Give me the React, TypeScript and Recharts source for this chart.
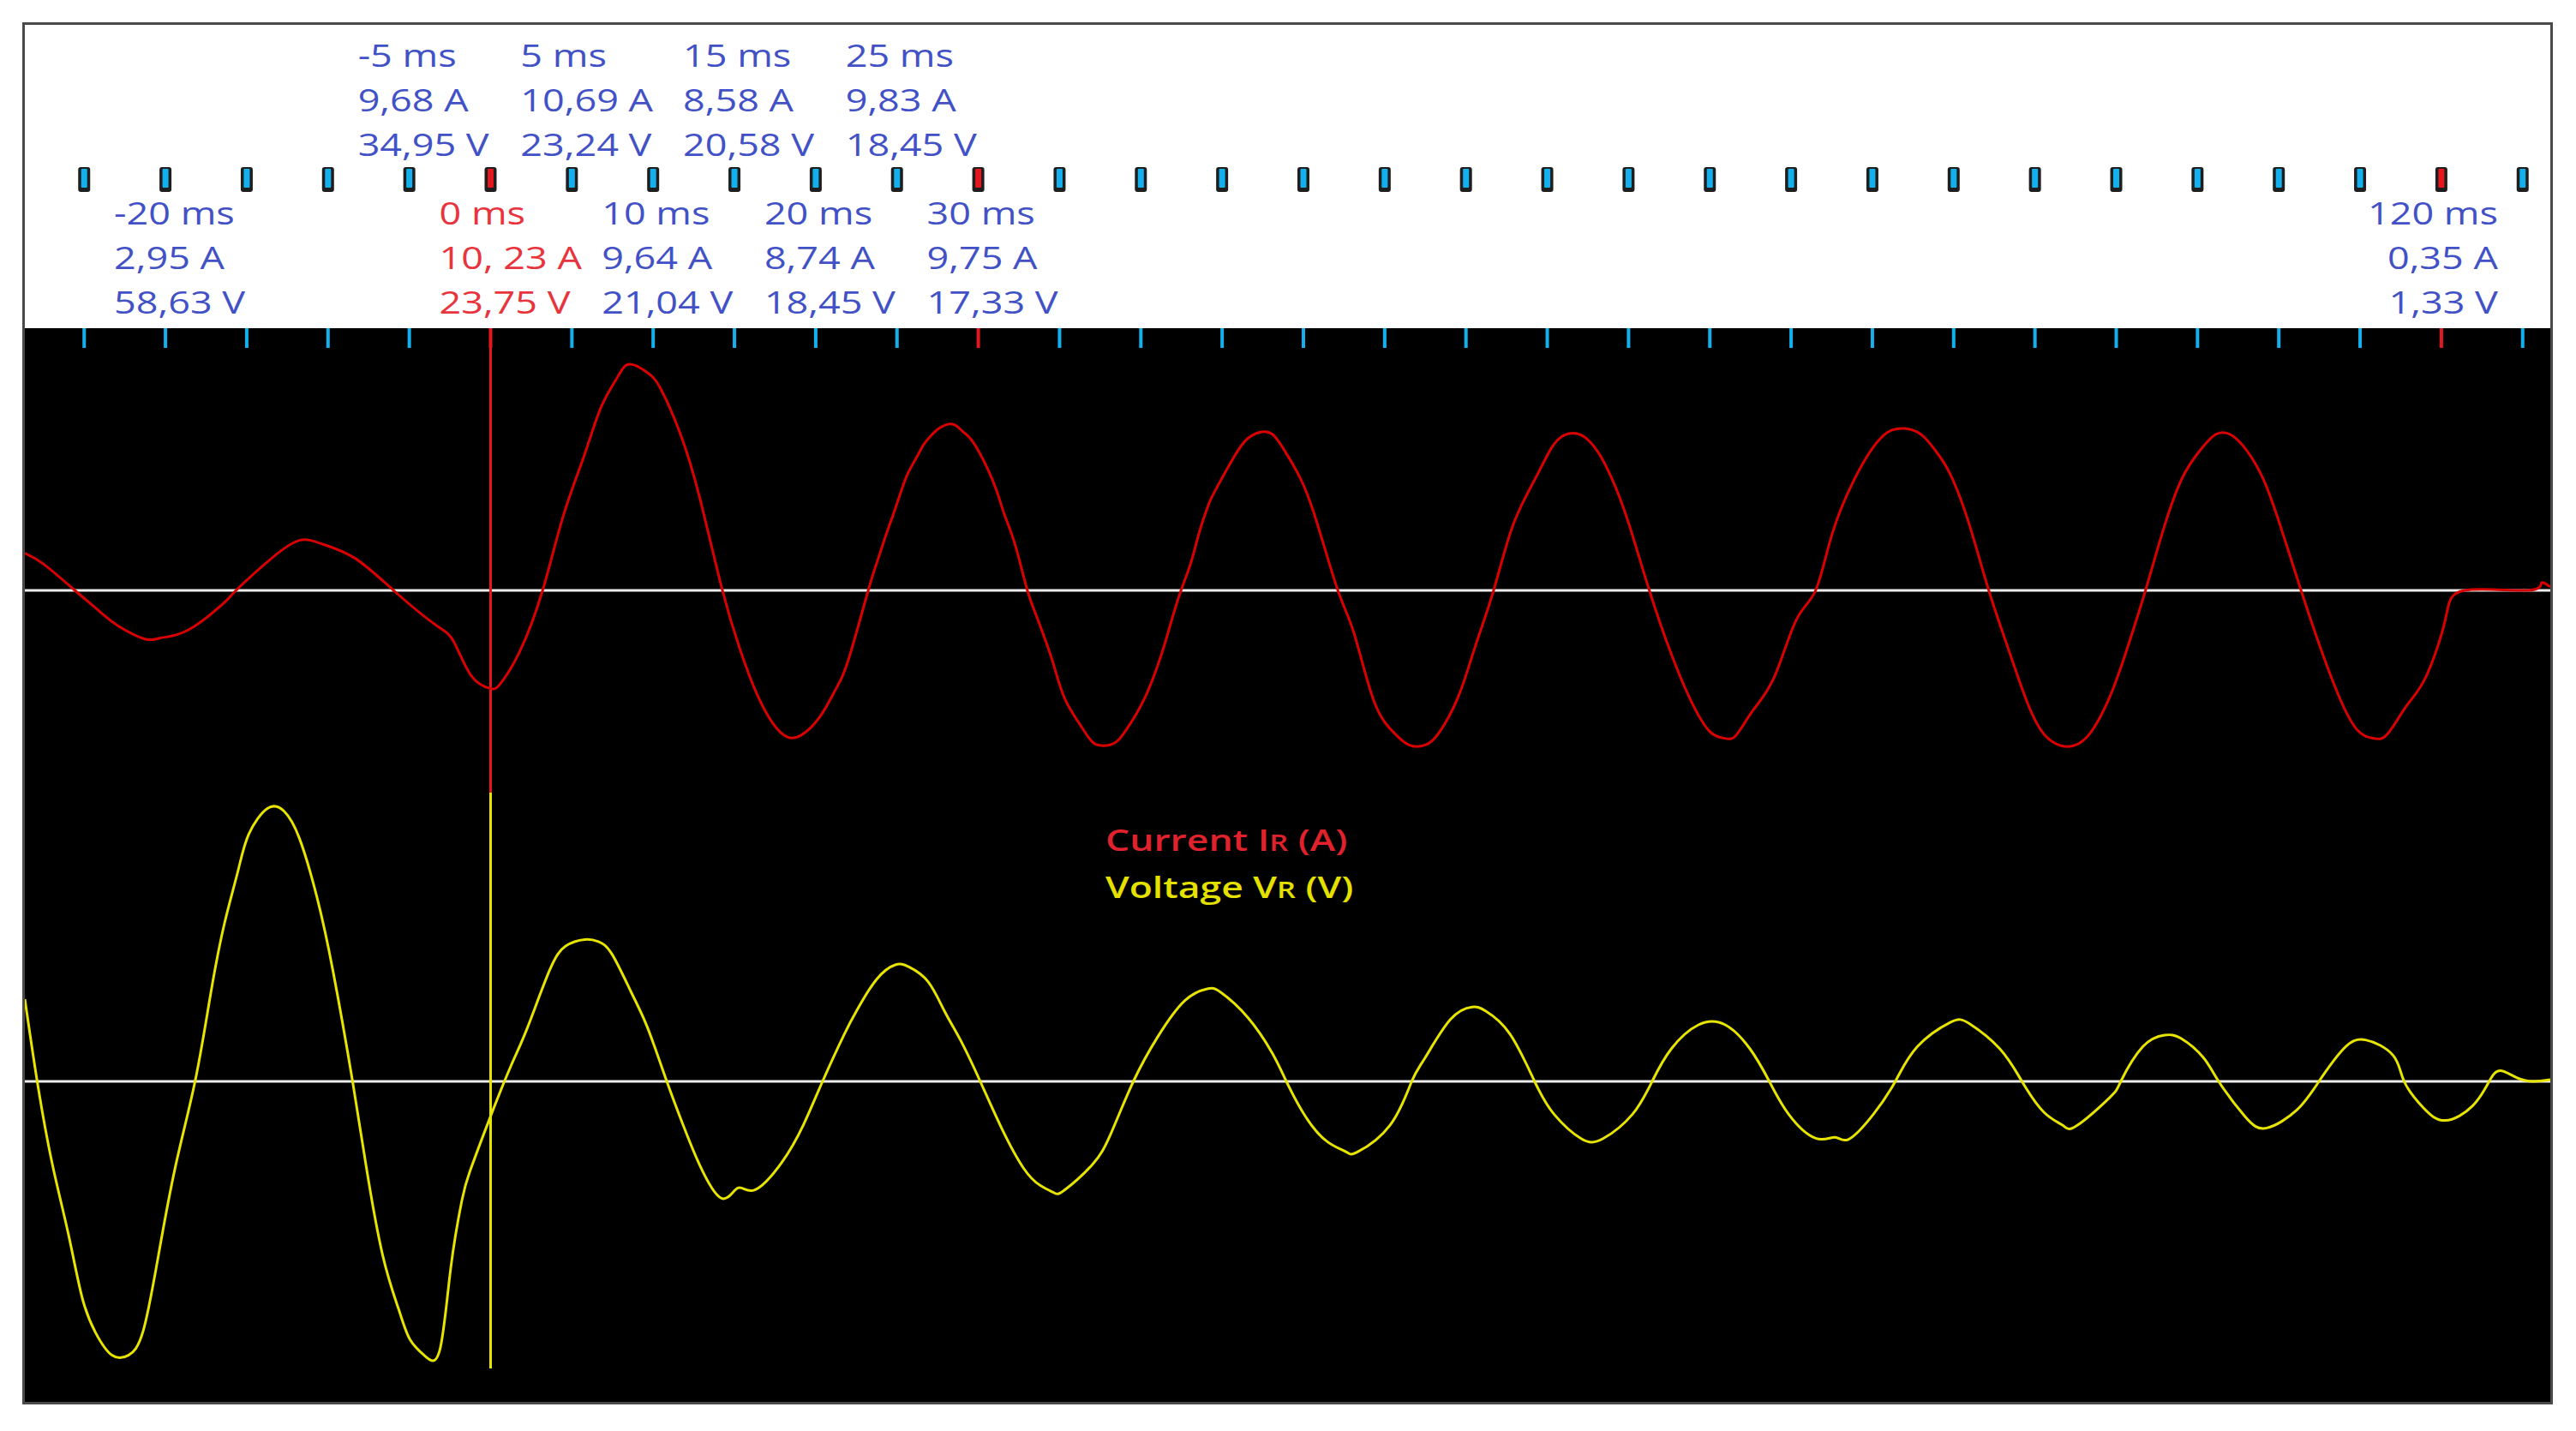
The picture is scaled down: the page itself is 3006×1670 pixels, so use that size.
import { LineChart, Line, XAxis, YAxis, CartesianGrid, ReferenceLine } from "recharts";

// time axis (ms)
const tickTimes = [
  -25, -20, -15, -10, -5, 0, 5, 10, 15, 20, 25, 30, 35, 40, 45, 50,
  55, 60, 65, 70, 75, 80, 85, 90, 95, 100, 105, 110, 115, 120, 125,
];
const markedTimes = [0, 30, 120];
const cursorTime = 0;

// readouts shown above the trace
const labelTimes = [-20, -5, 0, 5, 10, 15, 20, 25, 30, 120];
const labelCurrent = ["2,95 A", "9,68 A", "10, 23 A", "10,69 A", "9,64 A", "8,58 A", "8,74 A", "9,83 A", "9,75 A", "0,35 A"];
const labelVoltage = ["58,63 V", "34,95 V", "23,75 V", "23,24 V", "21,04 V", "20,58 V", "18,45 V", "18,45 V", "17,33 V", "1,33 V"];

// current IR
const currentTimes = [
  -28.65, -27.49, -25.57, -23.96, -22.95, -21.27, -20.26, -18.58, -16.39, -15.66,
  -13.54, -11.76, -10.34, -8.33, -5.97, -3.45, -2.28, -1.2, -0.03, 0.58,
  1.76, 3.2, 4.45, 5.79, 6.8, 7.81, 8.55, 9.66, 10.5, 11.68,
  12.85, 14.26, 15.38, 16.38, 17.39, 18.23, 19.07, 20.25, 21.26, 22.01,
  23.23, 23.76, 24.28, 24.81, 25.25, 25.69, 26.22, 26.66, 27.18, 27.63,
  28.42, 29.03, 29.64, 30.52, 31.14, 31.66, 32.28, 33.02, 33.6, 34.12,
  34.65, 35.35, 36.41, 37.2, 38.25, 39.04, 40.27, 41.33, 41.85, 42.47,
  43.08, 43.61, 44.14, 44.55, 45.73, 46.57, 47.41, 48.09, 48.76, 49.77,
  50.78, 52.12, 53.13, 54.31, 55.48, 56.49, 57.5, 58.34, 59.52, 60.53,
  61.7, 62.88, 64.22, 65.24, 66.07, 67.08, 68.09, 68.93, 69.94, 71.28,
  72.63, 73.81, 74.98, 75.92, 76.6, 77.62, 78.97, 80.32, 81.51, 82.52,
  83.87, 85.06, 86.24, 87.76, 88.78, 89.79, 90.98, 92.16, 93.35, 94.53,
  95.55, 96.56, 97.41, 98.42, 99.6, 100.62, 101.8, 102.81, 104.0, 105.18,
  106.09, 107.04, 108.06, 109.07, 110.09, 111.37, 112.45, 113.64, 114.82, 115.84,
  116.68, 117.87, 119.05, 120.24, 121.42, 125.31, 126.16, 126.7,
];
const currentAmps = [
  3.1, 2.19, 0, -1.86, -2.93, -4.05, -3.95, -3.29, -1.02, 0,
  2.6, 4.17, 3.86, 2.67, 0, -2.81, -4.24, -7.1, -8.17, -7.81,
  -5.19, 0, 6.12, 11.36, 15.29, 17.79, 18.86, 18.14, 16.71, 13.02,
  7.79, 0, -5.07, -8.64, -11.14, -12.21, -12.1, -10.55, -8.17, -5.79,
  0, 2.31, 4.45, 6.48, 8.26, 9.81, 11.12, 12.19, 13.02, 13.55,
  13.86, 13.26, 12.43, 10.29, 8.26, 6.12, 3.74, 0, -2.21, -4.12,
  -6.26, -9.12, -11.5, -12.81, -12.81, -11.74, -8.88, -5.07, -2.69, 0,
  2.31, 4.93, 7.07, 8.26, 11.12, 12.66, 13.21, 13.02, 11.83, 9.45,
  5.88, 0, -3.64, -9.12, -11.74, -12.88, -12.88, -11.86, -8.88, -4.83,
  0, 5.4, 9.21, 11.83, 12.95, 12.95, 11.6, 9.45, 5.88, 0,
  -5.31, -9.12, -11.74, -12.33, -12.1, -10.07, -7.21, -2.45, 0, 4.69,
  9.21, 11.95, 13.38, 13.21, 11.83, 9.69, 5.4, 0, -4.83, -9.36,
  -11.98, -12.93, -12.93, -11.86, -8.88, -5.07, 0, 4.69, 9.21, 11.71,
  12.98, 12.98, 11.6, 9.21, 5.4, 0, -4.36, -8.64, -11.62, -12.33,
  -11.98, -9.6, -7.21, -2.45, 0, 0, 0.64, 0.29,
];

// voltage VR
const voltageTimes = [
  -28.65, -27.89, -26.98, -25.97, -25.13, -24.29, -23.29, -22.28, -21.37, -20.43,
  -19.39, -18.18, -17.24, -16.4, -15.56, -14.88, -13.71, -12.7, -11.76, -10.68,
  -9.67, -8.49, -7.65, -6.64, -5.64, -4.96, -4.02, -3.12, -2.45, -1.77,
  -1.27, -0.02, 1.25, 2.26, 3.61, 4.62, 5.79, 6.63, 7.47, 8.65,
  9.66, 10.84, 11.84, 12.85, 14.2, 15.21, 16.22, 17.9, 19.24, 20.42,
  21.76, 22.54, 23.73, 24.89, 25.73, 26.91, 27.92, 28.92, 30.12, 31.46,
  32.81, 33.82, 34.66, 35.31, 37.01, 38.17, 39.54, 41.05, 42.71, 44.08,
  44.91, 46.57, 48.09, 48.95, 50.12, 51.47, 52.64, 53.32, 55.34, 56.66,
  57.5, 59.05, 60.38, 61.22, 62.71, 64.22, 65.42, 67.08, 68.43, 70.24,
  71.45, 72.63, 74.3, 75.95, 77.47, 78.66, 79.85, 81.51, 82.7, 83.54,
  85.06, 86.41, 87.76, 89.79, 90.98, 92.84, 94.2, 95.55, 96.73, 97.58,
  99.6, 100.28, 101.63, 102.98, 104.0, 105.35, 106.3, 107.91, 109.26, 111.12,
  112.47, 113.98, 115.34, 117.03, 117.71, 118.89, 120.24, 121.93, 122.94, 123.62,
  124.63, 125.65, 126.7,
];
const voltageVolts = [
  24.0, 0, -23.7, -44.6, -63.0, -73.4, -79.9, -79.9, -72.8, -50.7,
  -24.9, 0, 25.0, 45.5, 61.0, 72.1, 79.7, 78.8, 70.9, 53.7,
  31.6, 0, -24.9, -50.7, -66.7, -75.3, -80.2, -78.3, -54.4, -34.8,
  -26.2, -10.4, 4.5, 15.6, 32.2, 39.5, 41.4, 40.8, 37.1, 26.0,
  15.6, 0, -12.7, -24.3, -34.1, -31.1, -31.7, -23.7, -12.7, 0,
  13.8, 20.8, 29.7, 34.0, 33.4, 29.1, 20.5, 11.9, 0, -13.9,
  -25.5, -30.4, -32.5, -31.7, -24.3, -15.1, 0, 13.1, 23.6, 27.0,
  26.0, 18.7, 8.2, 0, -10.2, -17.6, -20.6, -20.6, -12.7, 0,
  7.0, 18.1, 21.7, 20.5, 13.8, 0, -9.6, -16.7, -16.7, -9.6,
  0, 9.5, 16.5, 16.5, 9.5, 0, -9.6, -16.6, -16.3, -16.9,
  -9.6, 0, 10.1, 17.2, 16.8, 9.5, 0, -9.0, -12.9, -12.9,
  -4.7, 0, 10.1, 13.5, 12.5, 7.0, 0, -10.2, -13.6, -8.3,
  0, 9.5, 12.1, 7.6, 0, -7.7, -11.4, -7.1, 0, 3.1,
  1.1, 0, 0.5,
];

const currentData = currentTimes.map((t, i) => ({ t, amps: currentAmps[i] }));
const voltageData = voltageTimes.map((t, i) => ({ t, volts: voltageVolts[i] }));

const W = 3006;
const H = 1670;
const PLOT_TOP = 383;
const FONT = "'Open Sans', 'Noto Sans', sans-serif";
const BLUE_TEXT = "#4252c6";
const RED_TEXT = "#e8343c";
const TICK_BLUE = "#14b0ee";
const TICK_RED = "#e4161e";
const TRACE_RED = "#d80000";
const TRACE_YELLOW = "#e6e400";

function TimeTick(props: any) {
  const { x, payload } = props;
  const t = payload.value as number;
  const marked = markedTimes.includes(t);
  const idx = labelTimes.indexOf(t);
  const upper = Math.abs(t % 10) === 5;
  const atEnd = t >= 100; // last readout sits against the frame, right aligned
  const anchorX = atEnd ? x + 66 : x - 60;
  const color = t === cursorTime ? RED_TEXT : BLUE_TEXT;
  return (
    <g>
      <rect x={x - 2} y={PLOT_TOP} width={4} height={23} fill={marked ? TICK_RED : TICK_BLUE} />
      <rect x={x - 7} y={195} width={14} height={29} rx={3} fill="#1e1e1e" />
      <rect x={x - 3.5} y={197} width={7} height={22} rx={1} fill={marked ? TICK_RED : TICK_BLUE} />
      {idx >= 0 && (
        <g
          transform={`translate(${anchorX} ${upper ? 78 : 262}) scale(1.25 1)`}
          fill={color}
          fontFamily={FONT}
          fontSize={36}
          textAnchor={atEnd ? "end" : "start"}
        >
          <text x={0} y={0}>{`${t} ms`}</text>
          <text x={0} y={52}>{labelCurrent[idx]}</text>
          <text x={0} y={104}>{labelVoltage[idx]}</text>
        </g>
      )}
    </g>
  );
}

export default function App() {
  return (
    <div style={{ position: "absolute", left: 0, top: 0, width: W, height: H, background: "#fff" }}>
      <LineChart width={W} height={H} margin={{ top: PLOT_TOP - 1, right: 30, bottom: 34, left: 29 }}>
        <CartesianGrid fill="#000" stroke="none" horizontal={false} vertical={false} />
        <XAxis
          xAxisId={0}
          dataKey="t"
          type="number"
          orientation="top"
          domain={[-28.65, 126.7]}
          allowDataOverflow
          ticks={tickTimes}
          interval={0}
          height={1}
          axisLine={false}
          tickLine={false}
          tick={<TimeTick />}
        />
        <YAxis yAxisId="i" type="number" domain={[-67.643, 21.857]} allowDataOverflow hide />
        <YAxis yAxisId="v" type="number" domain={[-93.5, 219.75]} allowDataOverflow hide />
        <ReferenceLine yAxisId="i" y={0} stroke="#ececec" strokeWidth={3} />
        <ReferenceLine yAxisId="v" y={0} stroke="#ececec" strokeWidth={3} />
        <ReferenceLine
          yAxisId="i"
          segment={[{ x: cursorTime, y: 21.857 }, { x: cursorTime, y: -16.86 }]}
          stroke={TICK_RED}
          strokeWidth={3}
        />
        <ReferenceLine
          yAxisId="v"
          segment={[{ x: cursorTime, y: 84.25 }, { x: cursorTime, y: -83.75 }]}
          stroke={TRACE_YELLOW}
          strokeWidth={3}
        />
        <Line
          yAxisId="i"
          data={currentData}
          dataKey="amps"
          type="natural"
          stroke={TRACE_RED}
          strokeWidth={3}
          dot={false}
          isAnimationActive={false}
        />
        <Line
          yAxisId="v"
          data={voltageData}
          dataKey="volts"
          type="natural"
          stroke={TRACE_YELLOW}
          strokeWidth={3}
          dot={false}
          isAnimationActive={false}
        />
      </LineChart>

      <svg width={W} height={H} style={{ position: "absolute", left: 0, top: 0, pointerEvents: "none" }}>
        <g fontFamily={FONT} fontSize={35} fontWeight={600}>
          <text transform="translate(1290 993) scale(1.27 1)" fill="#e0222c">
            Current I<tspan fontSize={27}>R</tspan> (A)
          </text>
          <text transform="translate(1290 1048) scale(1.27 1)" fill="#e4e000">
            Voltage V<tspan fontSize={27}>R</tspan> (V)
          </text>
        </g>
      </svg>

      <div
        style={{
          position: "absolute",
          left: 26,
          top: 26,
          width: 2953,
          height: 1613,
          boxSizing: "border-box",
          border: "3px solid #4a4a4a",
          pointerEvents: "none",
        }}
      />
    </div>
  );
}
